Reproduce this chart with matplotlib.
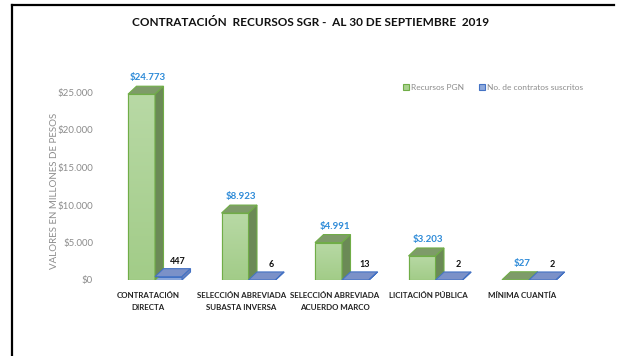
import numpy as np
import matplotlib
matplotlib.use("Agg")
import matplotlib.pyplot as plt
from matplotlib.patches import Polygon, Rectangle
from matplotlib.lines import Line2D
from matplotlib.colors import LinearSegmentedColormap

plt.rcParams['font.family'] = ['Lato', 'DejaVu Sans']

categories = ["CONTRATACIÓN\nDIRECTA", "SELECCIÓN ABREVIADA\nSUBASTA INVERSA",
              "SELECCIÓN ABREVIADA\nACUERDO MARCO", "LICITACIÓN PÚBLICA", "MÍNIMA CUANTÍA"]
recursos_pgn = [24773, 8923, 4991, 3203, 27]
contratos = [447, 6, 13, 2, 2]
y_ticks = [0, 5000, 10000, 15000, 20000, 25000]

W, H = 618, 356
fig = plt.figure(figsize=(W / 100, H / 100), dpi=100)
ax = fig.add_axes([100 / W, (H - 280) / H, 500 / W, 210 / H])

px_x = 93.5                 # pixels per category
px_y = 37.5 / 5000          # pixels per peso unit
x0 = (100 - 155) / px_x

bw = 27 / px_x              # front face width
dx = 8.5 / px_x             # depth offsets
dy = 8 / px_y

g_front, g_top, g_side, g_edge = "#A9D18E", "#7E9B69", "#6B8A56", "#70AD47"
b_front, b_top, b_side, b_edge = "#8FAADC", "#7B91C8", "#6C84BC", "#4472C4"
green_grad = LinearSegmentedColormap.from_list("gg", ["#A2CC88", "#B8D9A5"])


def box(x, h, front, top, side, edge, grad=None):
    face = Polygon([(x, 0), (x + bw, 0), (x + bw, h), (x, h)],
                   closed=True, fc=front, ec=edge, lw=0.8, zorder=3)
    ax.add_patch(face)
    if grad is not None and h > 0:
        img = ax.imshow(np.linspace(0, 1, 64).reshape(-1, 1), cmap=grad, origin="lower",
                        extent=(x, x + bw, 0, h), aspect="auto", zorder=3.1)
        img.set_clip_path(face)
        ax.add_patch(Polygon(face.get_xy(), closed=True, fc="none", ec=edge, lw=0.8, zorder=3.2))
    ax.add_patch(Polygon([(x, h), (x + bw, h), (x + bw + dx, h + dy), (x + dx, h + dy)],
                         closed=True, fc=top, ec=edge, lw=0.8, zorder=3.3))
    ax.add_patch(Polygon([(x + bw, 0), (x + bw + dx, dy), (x + bw + dx, h + dy), (x + bw, h)],
                         closed=True, fc=side, ec=edge, lw=0.8, zorder=3.3))


for i, (v, n) in enumerate(zip(recursos_pgn, contratos)):
    box(i - bw, v, g_front, g_top, g_side, g_edge, green_grad)
    box(i, n, b_front, b_top, b_side, b_edge)
    ax.text(i - bw / 2 + dx / 2 + 0.02, v + dy + 500, f"${v:,}".replace(",", "."),
            ha="center", va="bottom", fontsize=7, fontweight="bold", color="#2E8BD8", zorder=5)
    ax.text(i + bw / 2 + dx + 0.01, n + dy + 400, f"{n}",
            ha="center", va="bottom", fontsize=6.5, fontweight="bold", color="#111111", zorder=5)

ax.set_xlim(x0, x0 + 500 / px_x)
ax.set_ylim(0, 210 / px_y)
for s in ax.spines.values():
    s.set_visible(False)
ax.set_yticks(y_ticks)
ax.set_yticklabels([f"${t:,}".replace(",", ".") for t in y_ticks])
ax.tick_params(axis="y", length=0, pad=5, labelsize=7, labelcolor="#8C8C8C")
ax.set_xticks(np.arange(len(categories)) - 0.075)
ax.set_xticklabels(categories, fontsize=5.7, fontweight="bold", color="#222222", linespacing=1.7)
ax.tick_params(axis="x", length=0, pad=9)

fig.text(55 / W, (H - 191) / H, "VALORES EN MILLONES DE PESOS", rotation=90,
         ha="center", va="center", fontsize=7, color="#8C8C8C")

fig.text(311 / W, (H - 23) / H, "CONTRATACIÓN  RECURSOS SGR -  AL 30 DE SEPTIEMBRE  2019",
         ha="center", va="center", fontsize=8.5, fontweight="bold", color="#111111")

# legend
for xs, fc, ec, label in [(403, g_front, g_edge, "Recursos PGN"),
                          (479, b_front, b_edge, "No. de contratos suscritos")]:
    fig.add_artist(Rectangle((xs / W, (H - 90) / H), 6 / W, 6 / H, fc=fc, ec=ec, lw=0.8,
                             transform=fig.transFigure))
    fig.text((xs + 8) / W, (H - 87) / H, label, ha="left", va="center",
             fontsize=6, color="#8C8C8C")

# frame
fig.add_artist(Line2D([12 / W, 12 / W], [0, (H - 4.5) / H], color="black", lw=1.6,
                      transform=fig.transFigure))
fig.add_artist(Line2D([12 / W, 614 / W], [(H - 4.5) / H, (H - 4.5) / H], color="black", lw=1.6,
                      transform=fig.transFigure))

fig.savefig("out.png", dpi=100)
